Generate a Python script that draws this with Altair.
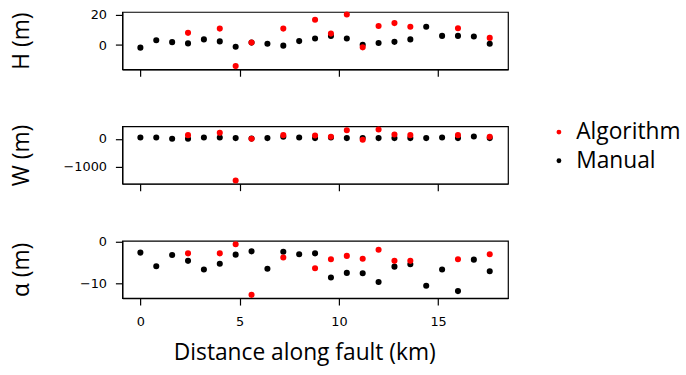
import altair as alt
import pandas as pd

# Distance along fault (km)
manual_dist = [0.0, 0.8, 1.6, 2.4, 3.2, 4.0, 4.8, 5.6, 6.4, 7.2, 8.0, 8.8,
               9.6, 10.4, 11.2, 12.0, 12.8, 13.6, 14.4, 15.2, 16.0, 16.8, 17.6]
manual_H = [-1.7, 3.2, 1.9, 1.1, 3.7, 2.4, -1.1, 1.6, 0.9, -0.4, 2.6, 4.3,
            6.0, 4.3, 0.2, 1.3, 2.1, 3.7, 12.0, 6.0, 6.0, 5.6, 0.9]
manual_W = [47, 47, 0, 0, 47, 47, 24, 5, 24, 70, 47, 24,
            47, 24, 24, 24, 24, 24, 24, 47, 24, 82, 24]
manual_A = [-2.6, -5.9, -3.2, -4.6, -6.7, -5.3, -3.1, -2.3, -6.5, -2.4, -3.0, -2.8,
            -8.6, -7.5, -7.6, -9.7, -6.0, -5.4, -10.6, -6.7, -11.9, -4.3, -7.1]

algo_dist = [2.4, 4.0, 4.8, 5.6, 7.2, 8.8, 9.6, 10.4, 11.2, 12.0, 12.8, 13.6, 16.0, 17.6]
algo_H = [8.0, 10.8, -13.8, 1.7, 10.8, 16.6, 7.5, 20.0, -1.5, 12.5, 14.4, 12.0, 11.0, 4.7]
algo_W = [130, 212, -1500, 0, 130, 118, 70, 306, -35, 330, 153, 130, 130, 70]
algo_A = [-2.8, -2.8, -0.6, -12.8, -3.8, -6.4, -4.2, -3.4, -4.1, -1.9, -4.6, -4.6, -4.2, -3.0]

sources = ["Algorithm", "Manual"]
colors = ["#ff0000", "#000000"]

df = pd.concat([
    pd.DataFrame({"dist": manual_dist, "H": manual_H, "W": manual_W, "A": manual_A,
                  "source": "Manual", "ord": 0}),
    pd.DataFrame({"dist": algo_dist, "H": algo_H, "W": algo_W, "A": algo_A,
                  "source": "Algorithm", "ord": 1}),
], ignore_index=True)

TITLE_FONT = "Open Sans"
TICK_FONT = "DejaVu Sans"


def panel(field, ytitle, ydomain, yticks, bottom):
    if bottom:
        xaxis = alt.Axis(values=[0, 5, 10, 15], labels=True, grid=False,
                         title="Distance along fault (km)", format="d",
                         titleX=184, titleY=62, titleBaseline="alphabetic")
    else:
        xaxis = alt.Axis(values=[0, 5, 10, 15], labels=False, grid=False,
                         title=None, format="d")
    return alt.Chart(df).mark_circle(size=38, opacity=1).encode(
        x=alt.X("dist:Q", scale=alt.Scale(domain=[-0.91, 18.52], nice=False, zero=False),
                axis=xaxis),
        y=alt.Y(f"{field}:Q", scale=alt.Scale(domain=ydomain, nice=False, zero=False),
                axis=alt.Axis(values=yticks, grid=False, title=ytitle, format="d",
                              titleX=-90, titleY=29, labelPadding=9)),
        color=alt.Color("source:N", scale=alt.Scale(domain=sources, range=colors),
                        legend=alt.Legend(title=None)),
        order=alt.Order("ord:Q"),
    ).properties(width=390, height=58)


chart = alt.vconcat(
    panel("H", "H (m)", [-15.9, 21.7], [0, 20], False),
    panel("W", "W (m)", [-1615, 445], [-1000, 0], False),
    panel("A", "α (m)", [-13.6, 0.25], [-10, 0], True),
    spacing=57.7, bounds="flush",
).properties(
    padding={"left": 9.7, "top": 6, "right": 5, "bottom": 5},
).configure_view(
    stroke="black", strokeWidth=1.2
).configure_axis(
    domainColor="black", domainWidth=1.2, tickColor="black", tickWidth=1.2, tickSize=7,
    labelFont=TICK_FONT, labelFontSize=13, labelColor="black", labelPadding=6,
    titleFont=TITLE_FONT, titleFontSize=23, titleFontWeight="normal", titleColor="black",
).configure_axisX(
    labelPadding=11,
).configure_legend(
    orient="none", legendX=430, legendY=110,
    labelFont=TITLE_FONT, labelFontSize=23, labelColor="black",
    symbolSize=24, symbolType="circle", labelOffset=6, rowPadding=5,
)

chart.save("out.html", embed_options={"renderer": "svg", "actions": False})
